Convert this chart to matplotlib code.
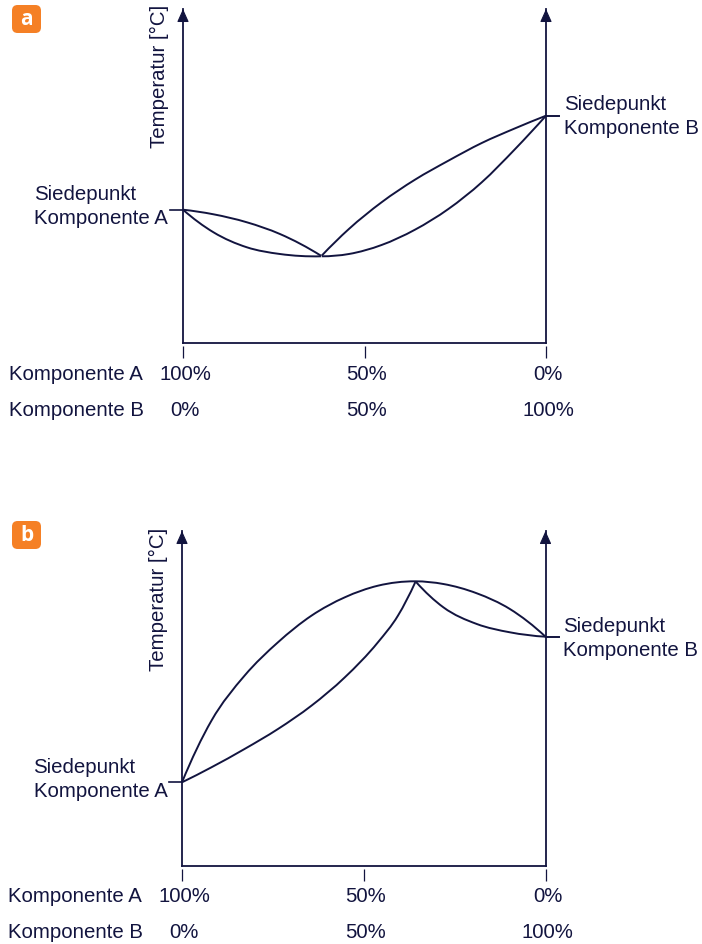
import matplotlib
matplotlib.use("Agg")
from matplotlib import pyplot as plt
from matplotlib.patches import FancyBboxPatch, PathPatch
from matplotlib.path import Path

W, H = 702, 945
NAVY = "#12143f"
ORANGE = "#f58025"

plt.rcParams['font.family'] = ['Liberation Sans', 'DejaVu Sans']

# composition in % of component A, temperature in arbitrary units above the x axis
a_left_x = [100, 91.6, 82.4, 73.3, 62.0]
a_left_upper_t = [133.3, 128.7, 120.7, 109, 87.3]
a_left_lower_t = [133.3, 110.7, 95.7, 89, 86.7]
a_right_x = [61.8, 54.3, 45.3, 36.1, 26.9, 17.7, 8.5, 0]
a_right_upper_t = [87.3, 114, 140.7, 163.3, 182.3, 200, 214.7, 227.3]
a_right_lower_t = [86.7, 89, 98, 113.3, 134, 160.7, 194, 227.3]

b_upper_x = [100, 91.9, 82.8, 73.6, 64.4, 55.2, 46.1, 35.8, 28.1, 18.9, 9.8, 0]
b_upper_t = [83.7, 145.3, 190.3, 223.7, 250.3, 268.7, 280.3, 284.7, 282, 272.7, 257, 229.3]
b_lower_left_x = [100, 91.9, 82.8, 73.6, 64.4, 55.2, 46.1, 40.6, 35.8]
b_lower_left_t = [83.7, 98.7, 117, 137, 160.3, 188.7, 223.7, 250.3, 284]
b_lower_right_x = [35.6, 28.1, 18.9, 9.8, 0]
b_lower_right_t = [284, 258.7, 242, 233.7, 229.3]

pct_ticks = [100, 50, 0]
comp_a_labels = ["100%", "50%", "0%"]
comp_b_labels = ["0%", "50%", "100%"]


def px(x, y):
    return x / W, 1 - y / H


def smooth_path(xs, ys):
    # cubic beziers through the read points, slope of the parabola over three neighbours
    n = len(xs)
    gap = [xs[i + 1] - xs[i] for i in range(n - 1)]
    sec = [(ys[i + 1] - ys[i]) / gap[i] for i in range(n - 1)]
    m = [0] * n
    for i in range(1, n - 1):
        m[i] = (gap[i] * sec[i - 1] + gap[i - 1] * sec[i]) / (gap[i - 1] + gap[i])
    m[0] = 2 * sec[0] - m[1]
    m[-1] = 2 * sec[-1] - m[-2]

    verts = [(xs[0], ys[0])]
    codes = [Path.MOVETO]
    for i in range(n - 1):
        d = gap[i] / 3
        verts += [(xs[i] + d, ys[i] + m[i] * d),
                  (xs[i + 1] - d, ys[i + 1] - m[i + 1] * d),
                  (xs[i + 1], ys[i + 1])]
        codes += [Path.CURVE4] * 3
    return Path(verts, codes)


def badge(fig, x, y, letter):
    fx, fy = px(x, y + 28)
    fig.add_artist(FancyBboxPatch((fx, fy), 29 / W, 28 / H,
                                  boxstyle="round,pad=0,rounding_size=0.008",
                                  transform=fig.transFigure, fc=ORANGE, ec="none",
                                  mutation_aspect=W / H))
    fig.text(*px(x + 14.5, y + 13.5), letter, color="white", fontsize=15, fontweight="bold",
             family=["Open Sans"], ha="center", va="center")


def panel(fig, left, right, base, top, boil_a, boil_b, curves, ylab_x, ylab_y,
          a_y, b_y, row_x, a_text, b_text):
    ax = fig.add_axes([left / W, 1 - base / H, (right - left) / W, (base - top) / H])
    ax.set_xlim(100, 0)
    ax.set_ylim(0, base - top)
    ax.patch.set_alpha(0)
    ax.spines["top"].set_visible(False)
    for s in ["left", "right", "bottom"]:
        ax.spines[s].set_color(NAVY)
        ax.spines[s].set_linewidth(1.3)

    for cx, ct in curves:
        ax.add_patch(PathPatch(smooth_path(cx, ct), fc="none", ec=NAVY, lw=1.4, clip_on=False))

    # arrow heads on both temperature axes
    for xv in [100, 0]:
        ax.annotate("", xy=(xv, base - top), xytext=(xv, base - top - 11),
                    arrowprops=dict(arrowstyle="-|>,head_length=0.8,head_width=0.36",
                                    mutation_scale=10, color=NAVY, lw=0.8,
                                    shrinkA=0, shrinkB=0))

    # boiling point marks
    ax.plot([103.6, 100], [boil_a, boil_a], color=NAVY, lw=1.2, clip_on=False)
    ax.plot([0, -3.6], [boil_b, boil_b], color=NAVY, lw=1.4, clip_on=False)

    # ticks sit a little below the axis line
    ax.set_xticks([])
    ax.set_yticks([])
    h = base - top
    ax.vlines(pct_ticks, -15 / h, -3 / h, transform=ax.get_xaxis_transform(),
              color=NAVY, lw=0.9, clip_on=False)

    for xv, la, lb in zip(pct_ticks, comp_a_labels, comp_b_labels):
        xp = left + (100 - xv) / 100 * (right - left)
        fig.text(*px(xp + 2, a_y), la, color=NAVY, fontsize=14.7, ha="center", va="center")
        fig.text(*px(xp + 2, b_y), lb, color=NAVY, fontsize=14.7, ha="center", va="center")
    fig.text(*px(row_x, a_y), "Komponente A", color=NAVY, fontsize=14.7, ha="left", va="center")
    fig.text(*px(row_x, b_y), "Komponente B", color=NAVY, fontsize=14.7, ha="left", va="center")

    fig.text(*px(ylab_x, ylab_y), "Temperatur [°C]", color=NAVY, fontsize=14.7,
             rotation=90, ha="center", va="center")
    for tx, ty, s in a_text + b_text:
        fig.text(*px(tx, ty), s, color=NAVY, fontsize=14.7, ha="left", va="center")


fig = plt.figure(figsize=(W / 100, H / 100), dpi=100)
badge(fig, 12, 6, "a")
badge(fig, 12, 522, "b")

panel(fig, 183, 546, 344, 10, a_left_upper_t[0], a_right_upper_t[-1],
      [(a_left_x, a_left_upper_t), (a_left_x, a_left_lower_t),
       (a_right_x, a_right_upper_t), (a_right_x, a_right_lower_t)],
      159, 76, 375, 411, 9,
      [(34.5, 194.5, "Siedepunkt"), (34.5, 218.5, "Komponente A")],
      [(564, 105, "Siedepunkt"), (564, 129, "Komponente B")])

panel(fig, 182, 545.5, 867, 532, b_upper_t[0], b_upper_t[-1],
      [(b_upper_x, b_upper_t), (b_lower_left_x, b_lower_left_t),
       (b_lower_right_x, b_lower_right_t)],
      158, 599, 897, 933, 8,
      [(33.5, 767.5, "Siedepunkt"), (33.5, 791.5, "Komponente A")],
      [(563, 627, "Siedepunkt"), (563, 651, "Komponente B")])

fig.savefig("out.png", dpi=100)
